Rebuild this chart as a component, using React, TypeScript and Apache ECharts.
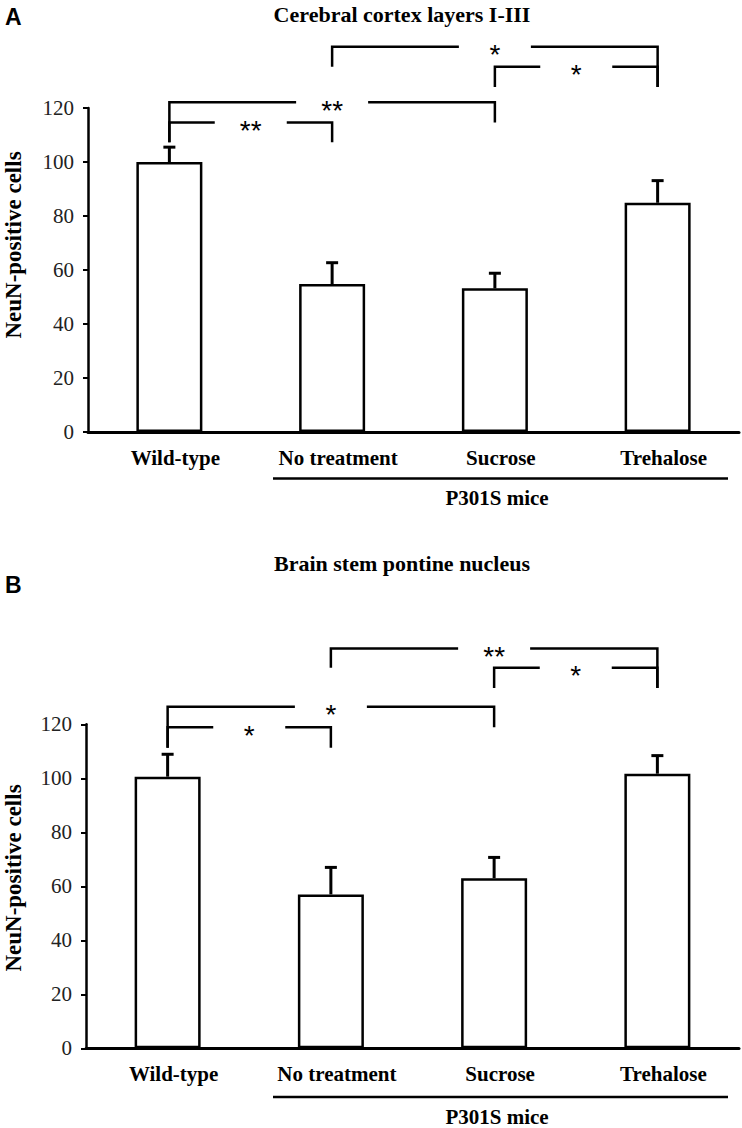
import React, { useEffect, useRef } from "react";
import * as echarts from "echarts";

// ---------- data ----------
const categories = ["Wild-type", "No treatment", "Sucrose", "Trehalose"];
const yTicks = [0, 20, 40, 60, 80, 100, 120];

const cortexMeans = [100, 54.8, 53.2, 84.9];
const cortexErrors = [5.5, 7.9, 5.6, 8.2];

const pontineMeans = [100.6, 57.0, 63.0, 101.7];
const pontineErrors = [8.3, 10.0, 7.7, 6.7];

// significance brackets: category indices, bracket level and leg ends (data units)
const cortexBrackets = [
  { from: 1, to: 3, level: 142.7, leftEnd: 135.3, rightEnd: 127.8, label: "*" },
  { from: 2, to: 3, level: 135.3, leftEnd: 127.8, rightEnd: 127.8, label: "*" },
  { from: 0, to: 2, level: 122.1, leftEnd: 107.3, rightEnd: 114.6, label: "**" },
  { from: 0, to: 1, level: 114.6, leftEnd: 107.3, rightEnd: 107.3, label: "**" },
];
const pontineBrackets = [
  { from: 1, to: 3, level: 148.1, leftEnd: 140.9, rightEnd: 133.4, label: "**" },
  { from: 2, to: 3, level: 140.9, leftEnd: 133.4, rightEnd: 133.4, label: "*" },
  { from: 0, to: 2, level: 126.5, leftEnd: 111.3, rightEnd: 118.9, label: "*" },
  { from: 0, to: 1, level: 118.9, leftEnd: 111.3, rightEnd: 111.3, label: "*" },
];

const panelTitles = ["Cerebral cortex layers I-III", "Brain stem pontine nucleus"];
const panelLetters = ["A", "B"];
const yAxisName = "NeuN-positive cells";
const groupLabel = "P301S mice";

const SERIF = "'Liberation Serif', 'Times New Roman', serif";
const SANS = "'Liberation Sans', Arial, sans-serif";

function errorSeries(gridIdx: number, means: number[], errs: number[]) {
  return {
    type: "custom",
    xAxisIndex: gridIdx,
    yAxisIndex: gridIdx,
    z: 5,
    data: means.map((m, i) => [i, m, errs[i]]),
    renderItem: (params: any, api: any) => {
      const i = api.value(0);
      const m = api.value(1);
      const e = api.value(2);
      const base = api.coord([i, m]);
      const top = api.coord([i, m + e]);
      return {
        type: "group",
        children: [
          {
            type: "line",
            shape: { x1: base[0], y1: base[1], x2: top[0], y2: top[1] },
            style: { stroke: "#000", lineWidth: 3 },
          },
          {
            type: "line",
            shape: { x1: top[0] - 6, y1: top[1], x2: top[0] + 6, y2: top[1] },
            style: { stroke: "#000", lineWidth: 3 },
          },
        ],
      };
    },
  };
}

function bracketSeries(gridIdx: number, brackets: any[]) {
  return {
    type: "custom",
    xAxisIndex: gridIdx,
    yAxisIndex: gridIdx,
    z: 6,
    clip: false,
    data: brackets.map((b) => [b.from, b.level]),
    renderItem: (params: any, api: any) => {
      const b = brackets[params.dataIndex];
      const pL = api.coord([b.from, b.level]);
      const pR = api.coord([b.to, b.level]);
      const pLe = api.coord([b.from, b.leftEnd]);
      const pRe = api.coord([b.to, b.rightEnd]);
      const mid = (pL[0] + pR[0]) / 2;
      const gap = 36;
      const y = pL[1];
      return {
        type: "group",
        children: [
          {
            type: "polyline",
            shape: { points: [[pLe[0], pLe[1]], [pL[0], y], [mid - gap, y]] },
            style: { stroke: "#000", lineWidth: 2.5, fill: null },
          },
          {
            type: "polyline",
            shape: { points: [[mid + gap, y], [pR[0], y], [pRe[0], pRe[1]]] },
            style: { stroke: "#000", lineWidth: 2.5, fill: null },
          },
          {
            type: "text",
            x: mid,
            y: y + 8,
            style: {
              text: b.label,
              fill: "#000",
              font: `28px ${SANS}`,
              align: "center",
              verticalAlign: "middle",
            },
          },
        ],
      };
    },
  };
}

export default function App() {
  const ref = useRef<HTMLDivElement>(null);

  useEffect(() => {
    document.body.style.margin = "0";
    if (!ref.current) return;
    const chart = echarts.init(ref.current, undefined, { renderer: "svg" });

    const grids = [
      { left: 88, top: 108, right: 3, height: 324 },
      { left: 86, top: 724.3, right: 3, height: 324 },
    ];

    const xAxes = grids.map((_, gi) => ({
      type: "category",
      gridIndex: gi,
      data: categories,
      boundaryGap: true,
      axisTick: { show: false },
      axisLine: { show: true, lineStyle: { color: "#000", width: 3 } },
      axisLabel: {
        color: "#000",
        fontFamily: SERIF,
        fontWeight: "bold",
        fontSize: 21,
        margin: 15,
        padding: [0, 0, 0, 12],
        interval: 0,
      },
    }));

    const yAxes = grids.map((_, gi) => ({
      type: "value",
      gridIndex: gi,
      min: yTicks[0],
      max: yTicks[yTicks.length - 1],
      interval: yTicks[1] - yTicks[0],
      splitLine: { show: false },
      axisLine: { show: true, lineStyle: { color: "#000", width: 2.5 } },
      axisTick: { show: true, inside: false, length: 5, lineStyle: { color: "#000", width: 2 } },
      axisLabel: {
        color: "#222",
        fontFamily: SERIF,
        fontSize: 21,
        margin: 14,
      },
    }));

    const barSeries = (gi: number, means: number[]) => ({
      type: "bar",
      xAxisIndex: gi,
      yAxisIndex: gi,
      data: means,
      barWidth: 66,
      itemStyle: { color: "#fff", borderColor: "#000", borderWidth: 2.5 },
      z: 3,
    });

    const graphic: any[] = [];
    const letterTop = [5, 573];
    const titleY = [14, 563];
    const yNameCenter = [245, 878];
    const underlineY = [478.5, 1097];
    const groupLabelY = [498, 1117];
    [0, 1].forEach((p) => {
      graphic.push({
        type: "text",
        left: 5,
        top: letterTop[p],
        style: { text: panelLetters[p], font: `bold 23px ${SANS}`, fill: "#000" },
      });
      graphic.push({
        type: "text",
        x: 402,
        y: titleY[p],
        style: {
          text: panelTitles[p],
          font: `bold 22px ${SERIF}`,
          fill: "#000",
          align: "center",
          verticalAlign: "middle",
        },
      });
      graphic.push({
        type: "text",
        x: 13,
        y: yNameCenter[p],
        rotation: Math.PI / 2,
        style: {
          text: yAxisName,
          font: `bold 23px ${SERIF}`,
          fill: "#000",
          align: "center",
          verticalAlign: "middle",
        },
      });
      graphic.push({
        type: "line",
        shape: { x1: 273, y1: underlineY[p], x2: 728, y2: underlineY[p] },
        style: { stroke: "#000", lineWidth: 2.5 },
      });
      graphic.push({
        type: "text",
        x: 497,
        y: groupLabelY[p],
        style: {
          text: groupLabel,
          font: `bold 21px ${SERIF}`,
          fill: "#000",
          align: "center",
          verticalAlign: "middle",
        },
      });
    });

    chart.setOption({
      animation: false,
      backgroundColor: "#fff",
      grid: grids,
      xAxis: xAxes,
      yAxis: yAxes,
      series: [
        barSeries(0, cortexMeans),
        errorSeries(0, cortexMeans, cortexErrors),
        bracketSeries(0, cortexBrackets),
        barSeries(1, pontineMeans),
        errorSeries(1, pontineMeans, pontineErrors),
        bracketSeries(1, pontineBrackets),
      ],
      graphic,
    });

    return () => chart.dispose();
  }, []);

  return <div ref={ref} style={{ width: 742, height: 1128 }} />;
}
